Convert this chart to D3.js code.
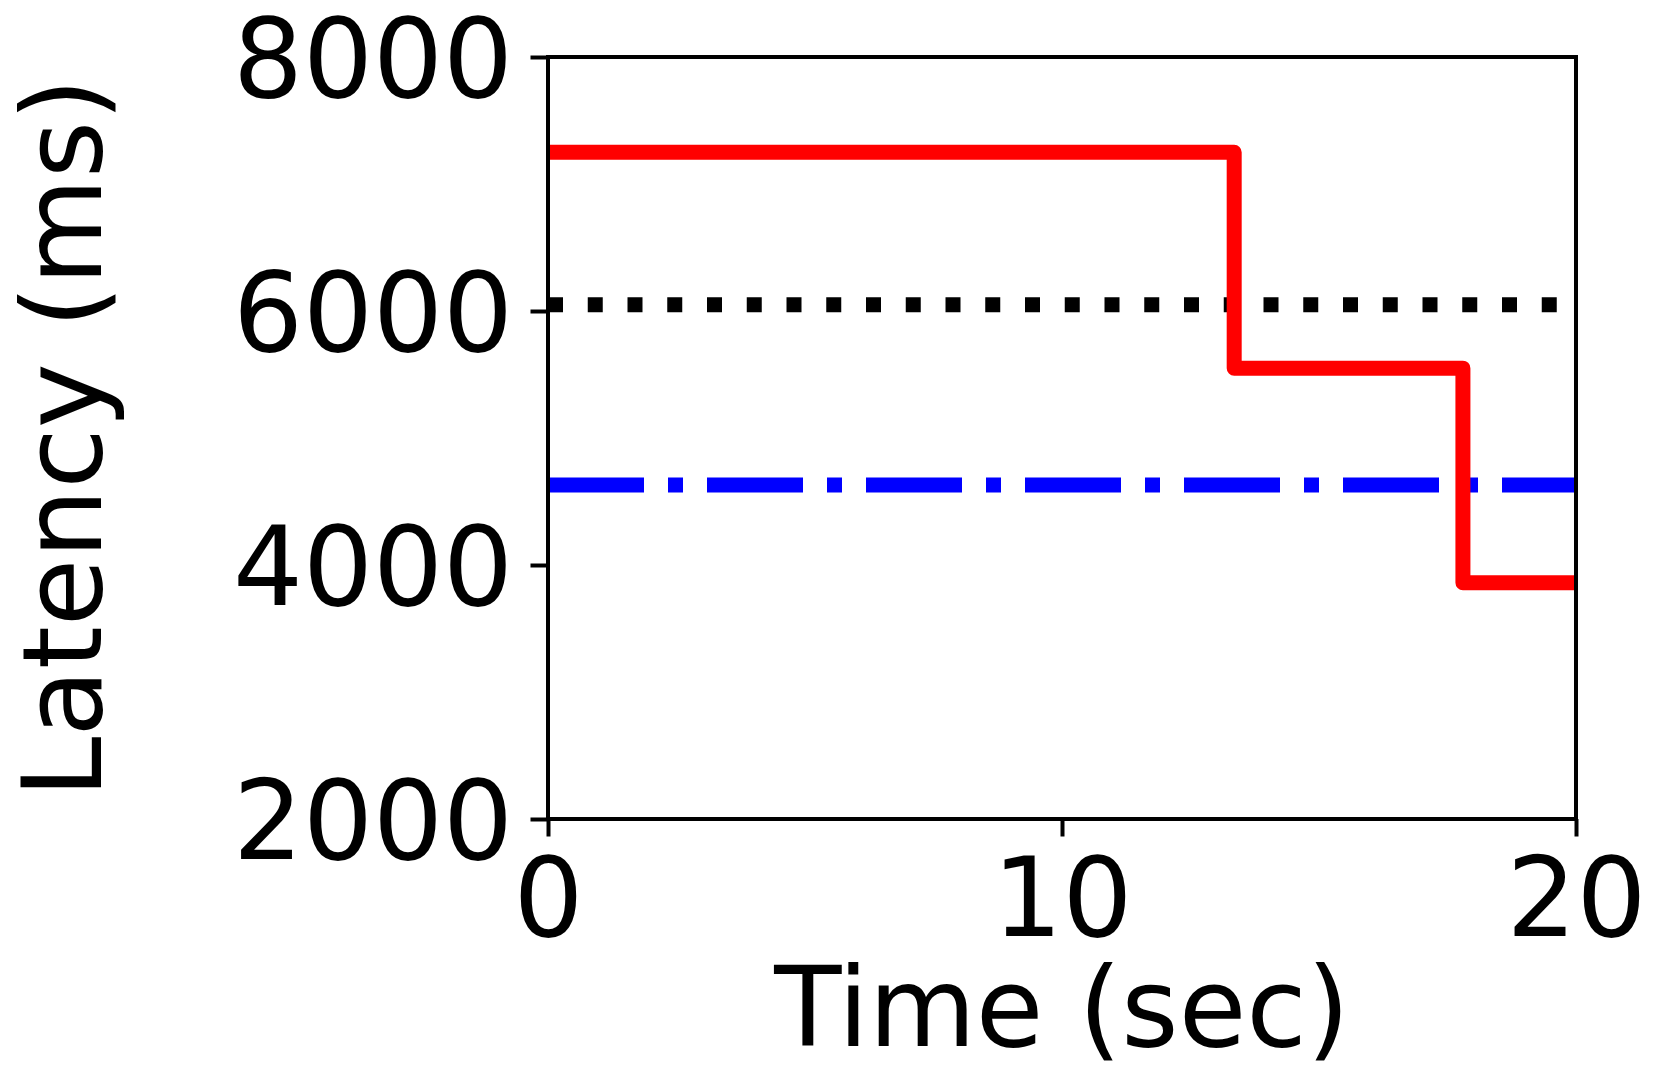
<!DOCTYPE html>
<html>
<head>
<meta charset="utf-8">
<script src="https://cdn.jsdelivr.net/npm/d3@7"></script>
<style>
  body { margin: 0; background: #fff; }
  text { font-family: "DejaVu Sans", sans-serif; }
</style>
</head>
<body>
<div id="chart"></div>
<script>
// data
var stepTimes = [0, 13.35, 17.8, 20];
var stepLatency = [7250, 5550, 3860, 3860];
var flatTimes = [0, 20];
var dottedLatency = [6050, 6050];
var dashDotLatency = [4630, 4630];
var xTicks = [0, 10, 20];
var yTicks = [2000, 4000, 6000, 8000];

var w = 1662;
var h = 1084;
var plotLeft = 548, plotRight = 1576, plotTop = 57, plotBottom = 819;
var lw = 15;
var fontSize = 110;

var svg = d3.select('#chart')
  .append('svg')
    .attr('width', w)
    .attr('height', h);

svg.append('rect')
  .attr('width', w)
  .attr('height', h)
  .attr('fill', '#fff');

var x = d3.scaleLinear().domain([0, 20]).range([plotLeft, plotRight]);
var y = d3.scaleLinear().domain([2000, 8000]).range([plotBottom, plotTop]);

svg.append('clipPath')
  .attr('id', 'plot-clip')
  .append('rect')
    .attr('x', plotLeft)
    .attr('y', plotTop)
    .attr('width', plotRight - plotLeft)
    .attr('height', plotBottom - plotTop);

var plot = svg.append('g').attr('clip-path', 'url(#plot-clip)');

var flatLine = d3.line()
  .x(d => x(d[0]))
  .y(d => y(d[1]));

// black dotted level
plot.append('path')
  .datum(d3.zip(flatTimes, dottedLatency))
  .attr('d', flatLine)
  .attr('fill', 'none')
  .attr('stroke', '#000')
  .attr('stroke-width', lw)
  .attr('stroke-dasharray', [lw, lw * 1.65].join(','));

// blue dash-dot level
plot.append('path')
  .datum(d3.zip(flatTimes, dashDotLatency))
  .attr('d', flatLine)
  .attr('fill', 'none')
  .attr('stroke', '#0000ff')
  .attr('stroke-width', lw)
  .attr('stroke-dasharray', [lw * 6.4, lw * 1.6, lw, lw * 1.6].join(','));

// red step line
var stepLine = d3.line()
  .x(d => x(d[0]))
  .y(d => y(d[1]))
  .curve(d3.curveStepAfter);

plot.append('path')
  .datum(d3.zip(stepTimes, stepLatency))
  .attr('d', stepLine)
  .attr('fill', 'none')
  .attr('stroke', '#ff0000')
  .attr('stroke-width', lw)
  .attr('stroke-linejoin', 'round')
  .attr('stroke-linecap', 'square');

// axes
var xAxis = d3.axisBottom(x)
  .tickValues(xTicks)
  .tickFormat(d3.format('d'))
  .tickSizeOuter(0)
  .tickSize(17.5)
  .tickPadding(21);

var yAxis = d3.axisLeft(y)
  .tickValues(yTicks)
  .tickFormat(d3.format('d'))
  .tickSizeOuter(0)
  .tickSize(17.5)
  .tickPadding(17.5);

var gx = svg.append('g')
  .attr('transform', 'translate(0,' + plotBottom + ')')
  .call(xAxis);

var gy = svg.append('g')
  .attr('transform', 'translate(' + plotLeft + ',0)')
  .call(yAxis);

[gx, gy].forEach(function(g) {
  g.select('.domain').remove();
  g.selectAll('.tick line').attr('stroke', '#000').attr('stroke-width', 4);
  g.selectAll('.tick text')
    .attr('fill', '#000')
    .style('font-size', fontSize + 'px')
    .style('font-family', '"DejaVu Sans", sans-serif');
});
gy.selectAll('.tick text').attr('dy', '0.36em');

// spines
svg.append('rect')
  .attr('x', plotLeft)
  .attr('y', plotTop)
  .attr('width', plotRight - plotLeft)
  .attr('height', plotBottom - plotTop)
  .attr('fill', 'none')
  .attr('stroke', '#000')
  .attr('stroke-width', 4);

// axis labels
svg.append('text')
  .attr('x', (plotLeft + plotRight) / 2)
  .attr('y', 1046)
  .attr('text-anchor', 'middle')
  .style('font-size', fontSize + 'px')
  .text('Time (sec)');

svg.append('text')
  .attr('transform', 'translate(101,' + ((plotTop + plotBottom) / 2) + ') rotate(-90)')
  .attr('text-anchor', 'middle')
  .style('font-size', fontSize + 'px')
  .text('Latency (ms)');
</script>
</body>
</html>
